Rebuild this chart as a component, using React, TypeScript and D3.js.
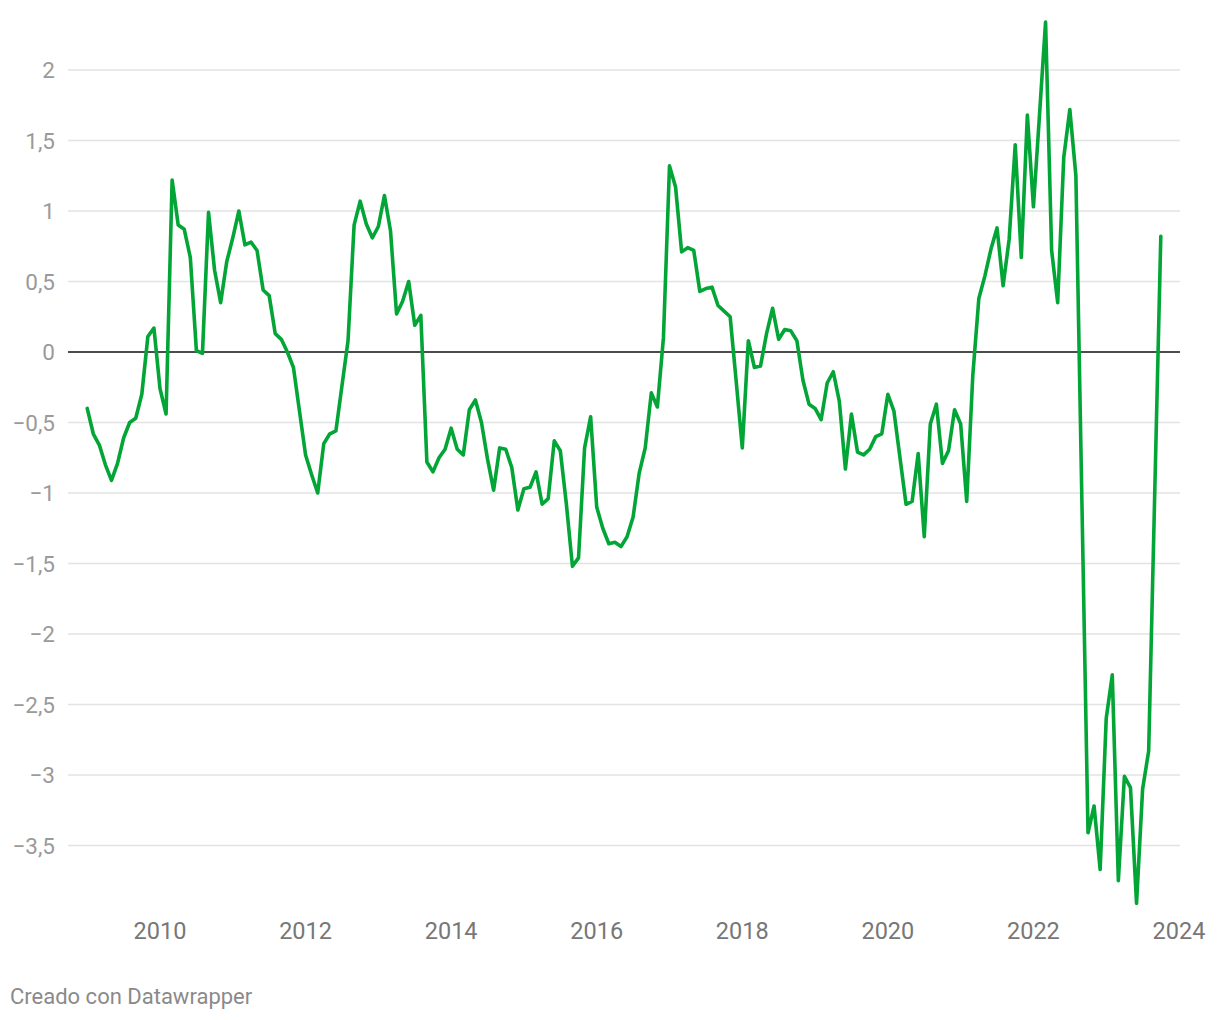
import React from "react";
import * as d3 from "d3";

// Monthly series, first value = January 2009
const startYear = 2009;
const values: number[] = [
  -0.40, -0.58, -0.66, -0.80, -0.91, -0.79, -0.61, -0.50, -0.47, -0.30, 0.11, 0.17,
  -0.26, -0.44, 1.22, 0.90, 0.87, 0.67, 0.01, -0.01, 0.99, 0.58, 0.35, 0.64,
  0.81, 1.00, 0.76, 0.78, 0.72, 0.44, 0.40, 0.13, 0.09, 0.00, -0.11, -0.42,
  -0.73, -0.87, -1.00, -0.65, -0.58, -0.56, -0.24, 0.08, 0.90, 1.07, 0.91, 0.81,
  0.89, 1.11, 0.86, 0.27, 0.36, 0.50, 0.19, 0.26, -0.78, -0.85, -0.75, -0.69,
  -0.54, -0.69, -0.73, -0.41, -0.34, -0.50, -0.76, -0.98, -0.68, -0.69, -0.82, -1.12,
  -0.97, -0.96, -0.85, -1.08, -1.04, -0.63, -0.70, -1.08, -1.52, -1.46, -0.68, -0.46,
  -1.10, -1.25, -1.36, -1.35, -1.38, -1.31, -1.17, -0.86, -0.68, -0.29, -0.39, 0.10,
  1.32, 1.17, 0.71, 0.74, 0.72, 0.43, 0.45, 0.46, 0.33, 0.29, 0.25, -0.21,
  -0.68, 0.08, -0.11, -0.10, 0.13, 0.31, 0.09, 0.16, 0.15, 0.08, -0.20, -0.37,
  -0.40, -0.48, -0.22, -0.14, -0.35, -0.83, -0.44, -0.71, -0.73, -0.69, -0.60, -0.58,
  -0.30, -0.42, -0.75, -1.08, -1.06, -0.72, -1.31, -0.51, -0.37, -0.79, -0.70, -0.41,
  -0.51, -1.06, -0.17, 0.38, 0.54, 0.73, 0.88, 0.47, 0.80, 1.47, 0.67, 1.68,
  1.03, 1.68, 2.34, 0.72, 0.35, 1.38, 1.72, 1.25, -1.08, -3.41, -3.22, -3.67,
  -2.60, -2.29, -3.75, -3.01, -3.09, -3.91, -3.10, -2.83, -1.00, 0.82,
];

const yTicks = [2, 1.5, 1, 0.5, 0, -0.5, -1, -1.5, -2, -2.5, -3, -3.5];
const xTicks = [2010, 2012, 2014, 2016, 2018, 2020, 2022, 2024];
const footer = "Creado con Datawrapper";

const W = 1220;
const H = 1020;
const FONT = "Roboto, 'Noto Sans', sans-serif";

export default function App() {
  const x = d3.scaleLinear().domain([2010, 2024]).range([160, 1179]);
  const y = d3.scaleLinear().domain([0, 2]).range([352, 70]);
  const gridX0 = 68;
  const gridX1 = 1180;

  const fmt = (v: number) =>
    (v < 0 ? "\u2212" : "") + String(Math.abs(v)).replace(".", ",");

  const line = d3
    .line<number>()
    .x((_, i) => x(startYear + i / 12))
    .y((d) => y(d));

  return (
    <svg
      width={W}
      height={H}
      style={{ position: "absolute", left: 0, top: 0, background: "#fff" }}
      fontFamily={FONT}
    >
      <g>
        {yTicks.map((t) => (
          <g key={t}>
            {t !== 0 && (
              <line
                x1={gridX0}
                x2={gridX1}
                y1={y(t)}
                y2={y(t)}
                stroke="#e3e3e3"
                strokeWidth={1.5}
              />
            )}
            <text
              x={55}
              y={y(t)}
              dy="0.36em"
              textAnchor="end"
              fontSize={22.5}
              fill="#9a9a9a"
            >
              {fmt(t)}
            </text>
          </g>
        ))}
      </g>
      <line
        x1={gridX0}
        x2={gridX1}
        y1={y(0)}
        y2={y(0)}
        stroke="#111"
        strokeWidth={1.6}
      />
      {xTicks.map((t) => (
        <text
          key={t}
          x={x(t)}
          y={939}
          textAnchor="middle"
          fontSize={23.5}
          fill="#777"
        >
          {t}
        </text>
      ))}
      <path
        d={line(values) || ""}
        fill="none"
        stroke="#03a537"
        strokeWidth={3.6}
        strokeLinejoin="round"
        strokeLinecap="round"
      />
      <text x={10} y={1004} fontSize={22} fill="#8a8a8a">
        {footer}
      </text>
    </svg>
  );
}
